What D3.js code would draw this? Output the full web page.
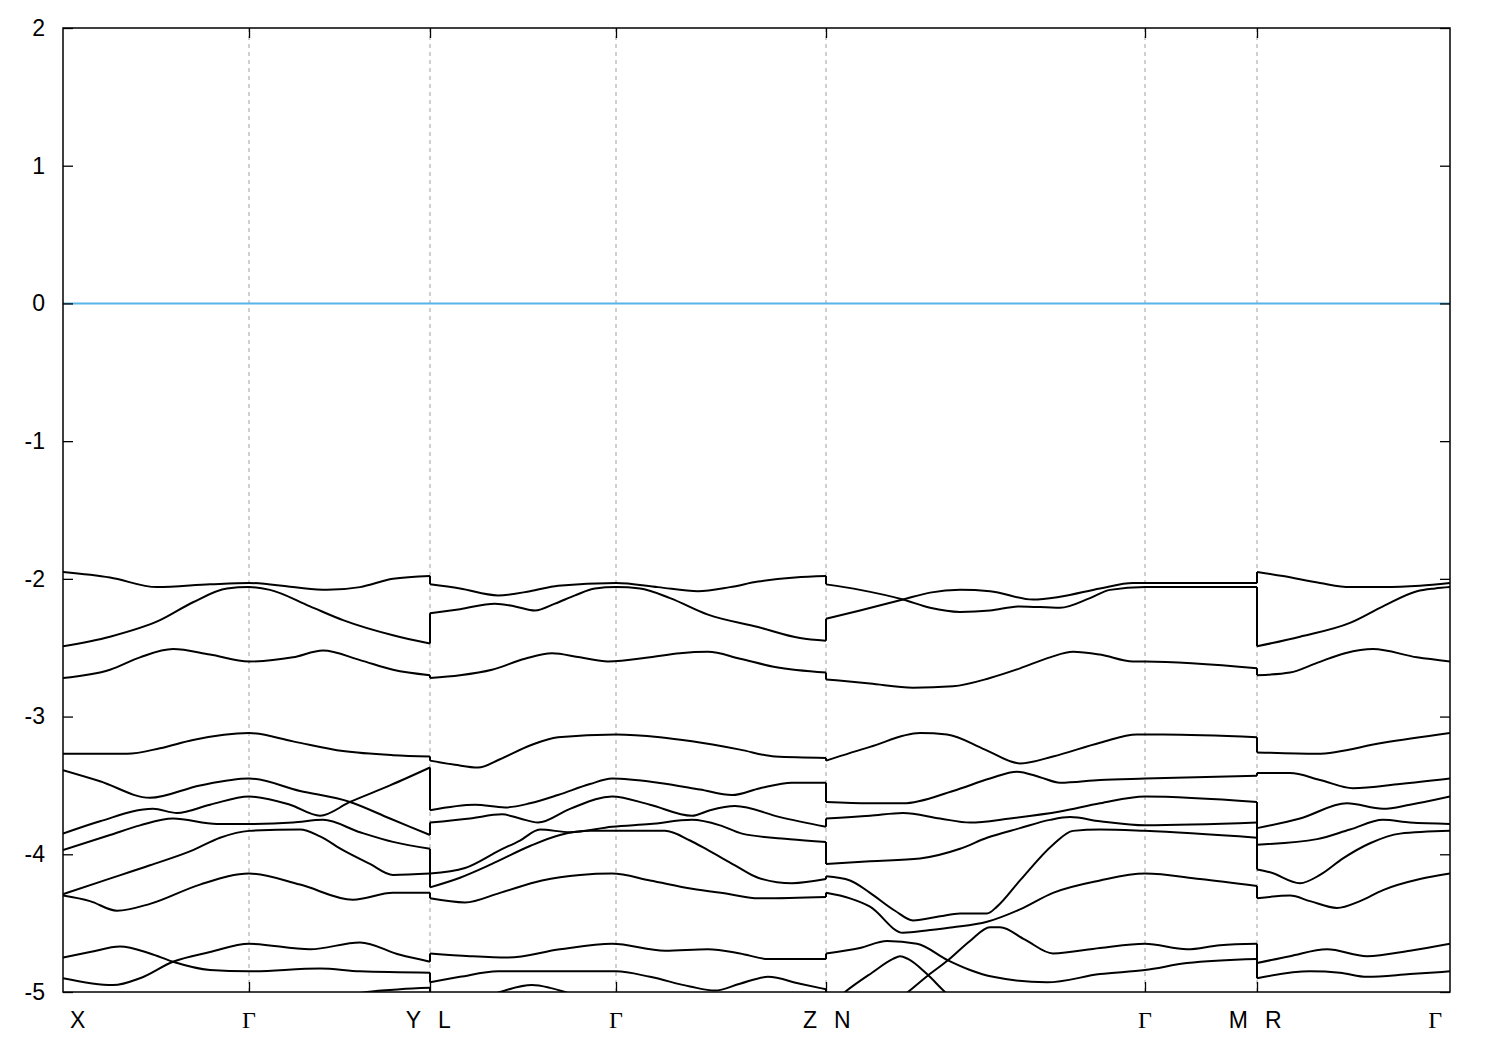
<!DOCTYPE html>
<html><head><meta charset="utf-8">
<script src="https://cdn.jsdelivr.net/npm/d3@7"></script>
<style>body{margin:0;background:#fff;} svg{display:block;}</style>
</head><body><svg id="chart" width="1500" height="1050"></svg>
<script>
// High-symmetry points along the k-path (path distance, arbitrary units)
const kTicks = [0, 1.86, 3.67, 5.53, 7.63, 10.82, 11.94, 13.87];
const kLabels = ["X", "Γ", "Y|L", "Γ", "Z|N", "Γ", "M|R", "Γ"];
const energyTicks = [-5, -4, -3, -2, -1, 0, 1, 2];
const energyRange = [-5, 2];
const fermiEnergy = 0;

// Bands on X-Γ-Y : each band is a list of [k, E(eV)]
const bandsXGY = [
  [[0,-1.95],[0.47,-1.99],[0.94,-2.06],[1.47,-2.04],[1.86,-2.03],[2.30,-2.06],[2.64,-2.08],[2.97,-2.06],[3.30,-2.00],[3.67,-1.98]],
  [[0,-2.49],[0.47,-2.42],[0.97,-2.30],[1.30,-2.17],[1.64,-2.07],[1.86,-2.06],[2.07,-2.08],[2.47,-2.20],[2.80,-2.30],[3.30,-2.41],[3.67,-2.47]],
  [[0,-2.72],[0.47,-2.66],[0.77,-2.57],[1.10,-2.51],[1.47,-2.55],[1.86,-2.60],[2.30,-2.57],[2.60,-2.52],[2.97,-2.59],[3.30,-2.66],[3.67,-2.70]],
  [[0,-3.27],[0.64,-3.27],[0.97,-3.23],[1.30,-3.17],[1.86,-3.12],[2.30,-3.18],[2.80,-3.25],[3.30,-3.28],[3.67,-3.29]],
  [[0,-3.39],[0.37,-3.47],[0.87,-3.59],[1.37,-3.50],[1.86,-3.45],[2.37,-3.54],[2.87,-3.62],[3.27,-3.74],[3.67,-3.86]],
  [[0,-3.85],[0.37,-3.76],[0.90,-3.67],[1.14,-3.70],[1.47,-3.64],[1.86,-3.58],[2.27,-3.64],[2.57,-3.72],[2.87,-3.62],[3.27,-3.50],[3.67,-3.37]],
  [[0,-3.97],[0.47,-3.86],[0.77,-3.79],[1.10,-3.74],[1.54,-3.78],[1.86,-3.78],[2.30,-3.77],[2.60,-3.75],[2.97,-3.84],[3.30,-3.91],[3.67,-3.96]],
  [[0,-4.29],[0.37,-4.20],[0.87,-4.08],[1.30,-3.97],[1.57,-3.88],[1.86,-3.83],[2.37,-3.82],[2.57,-3.87],[2.80,-3.97],[3.07,-4.07],[3.30,-4.15],[3.67,-4.14]],
  [[0,-4.30],[0.27,-4.34],[0.54,-4.41],[0.87,-4.36],[1.37,-4.22],[1.86,-4.14],[2.37,-4.22],[2.90,-4.33],[3.30,-4.28],[3.67,-4.28]],
  [[0,-4.75],[0.27,-4.71],[0.57,-4.67],[0.87,-4.72],[1.10,-4.78],[1.47,-4.84],[1.86,-4.85],[2.57,-4.83],[2.97,-4.85],[3.67,-4.86]],
  [[0,-4.90],[0.50,-4.95],[0.77,-4.90],[1.10,-4.78],[1.47,-4.71],[1.86,-4.65],[2.47,-4.69],[2.97,-4.64],[3.37,-4.73],[3.67,-4.78]],
  [[0,-5.30],[1.86,-5.30],[2.37,-5.15],[2.77,-5.04],[3.04,-5.00],[3.37,-4.98],[3.67,-4.97]]
];

// Bands on L-Γ-Z
const bandsLGZ = [
  [[3.67,-2.04],[3.97,-2.07],[4.35,-2.12],[4.67,-2.09],[4.95,-2.05],[5.53,-2.03],[5.95,-2.06],[6.35,-2.09],[6.67,-2.06],[6.95,-2.02],[7.32,-1.99],[7.63,-1.98]],
  [[3.67,-2.25],[3.97,-2.22],[4.32,-2.18],[4.52,-2.20],[4.72,-2.23],[4.92,-2.18],[5.12,-2.12],[5.32,-2.07],[5.53,-2.06],[5.77,-2.07],[6.07,-2.14],[6.45,-2.26],[6.95,-2.35],[7.37,-2.43],[7.63,-2.45]],
  [[3.67,-2.72],[3.97,-2.70],[4.29,-2.66],[4.62,-2.58],[4.89,-2.54],[5.17,-2.57],[5.45,-2.60],[5.87,-2.57],[6.17,-2.54],[6.45,-2.53],[6.77,-2.58],[7.12,-2.64],[7.63,-2.68]],
  [[3.67,-3.32],[3.92,-3.35],[4.15,-3.37],[4.37,-3.31],[4.67,-3.21],[4.95,-3.15],[5.53,-3.13],[5.97,-3.15],[6.29,-3.18],[6.77,-3.24],[7.12,-3.29],[7.63,-3.30]],
  [[3.67,-3.68],[4.12,-3.64],[4.42,-3.66],[4.67,-3.63],[4.95,-3.57],[5.27,-3.49],[5.49,-3.45],[5.95,-3.48],[6.37,-3.53],[6.69,-3.57],[6.97,-3.52],[7.29,-3.48],[7.63,-3.48]],
  [[3.67,-3.77],[4.07,-3.74],[4.39,-3.71],[4.57,-3.74],[4.75,-3.77],[5.07,-3.67],[5.49,-3.58],[5.87,-3.64],[6.29,-3.72],[6.47,-3.68],[6.72,-3.65],[7.17,-3.73],[7.63,-3.80]],
  [[3.67,-4.14],[4.02,-4.10],[4.37,-3.97],[4.57,-3.90],[4.77,-3.82],[5.07,-3.84],[5.49,-3.80],[5.87,-3.78],[6.29,-3.75],[6.57,-3.79],[6.79,-3.85],[7.27,-3.89],[7.63,-3.91]],
  [[3.67,-4.24],[3.97,-4.17],[4.29,-4.07],[4.67,-3.94],[4.97,-3.86],[5.27,-3.83],[5.53,-3.83],[6.02,-3.83],[6.27,-3.90],[6.45,-3.97],[6.72,-4.08],[6.95,-4.17],[7.29,-4.21],[7.63,-4.18]],
  [[3.67,-4.32],[4.02,-4.35],[4.37,-4.28],[4.79,-4.19],[5.17,-4.15],[5.49,-4.14],[5.87,-4.19],[6.29,-4.25],[6.67,-4.29],[6.95,-4.32],[7.63,-4.31]],
  [[3.67,-4.72],[4.07,-4.74],[4.45,-4.75],[4.97,-4.69],[5.49,-4.65],[6.02,-4.70],[6.45,-4.69],[6.77,-4.72],[7.05,-4.76],[7.63,-4.76]],
  [[3.67,-4.93],[3.97,-4.89],[4.35,-4.85],[4.97,-4.85],[5.53,-4.85],[5.87,-4.89],[6.27,-4.96],[6.52,-4.99],[6.77,-4.94],[7.05,-4.89],[7.37,-4.94],[7.63,-4.98]],
  [[3.67,-5.15],[4.17,-5.05],[4.37,-5.00],[4.69,-4.95],[4.87,-4.97],[5.02,-5.00],[5.37,-5.10],[7.63,-5.20]]
];

// Bands on N-Γ-M
const bandsNGM = [
  [[7.63,-2.04],[7.97,-2.08],[8.40,-2.15],[8.67,-2.21],[8.97,-2.24],[9.27,-2.23],[9.57,-2.20],[9.97,-2.21],[10.27,-2.14],[10.47,-2.08],[10.82,-2.06],[11.94,-2.06]],
  [[7.63,-2.29],[7.97,-2.23],[8.40,-2.15],[8.67,-2.10],[8.97,-2.08],[9.27,-2.09],[9.70,-2.15],[9.97,-2.13],[10.37,-2.07],[10.70,-2.03],[10.82,-2.03],[11.94,-2.03]],
  [[7.63,-2.73],[8.07,-2.76],[8.50,-2.79],[8.90,-2.78],[9.27,-2.72],[9.57,-2.65],[9.87,-2.57],[10.10,-2.53],[10.37,-2.55],[10.70,-2.60],[10.82,-2.60],[11.94,-2.65]],
  [[7.63,-3.32],[8.07,-3.22],[8.57,-3.12],[8.84,-3.13],[9.22,-3.24],[9.57,-3.34],[9.90,-3.29],[10.37,-3.19],[10.74,-3.13],[11.00,-3.13],[11.94,-3.15]],
  [[7.63,-3.62],[8.07,-3.63],[8.40,-3.63],[8.90,-3.54],[9.27,-3.45],[9.54,-3.40],[9.77,-3.44],[9.97,-3.48],[10.37,-3.46],[10.82,-3.45],[11.94,-3.43]],
  [[7.63,-3.74],[8.07,-3.72],[8.40,-3.70],[8.77,-3.74],[9.07,-3.77],[9.47,-3.74],[9.97,-3.69],[10.37,-3.63],[10.82,-3.58],[11.94,-3.62]],
  [[7.63,-4.07],[8.07,-4.05],[8.57,-4.03],[8.97,-3.96],[9.24,-3.88],[9.57,-3.81],[9.87,-3.75],[10.07,-3.73],[10.37,-3.76],[10.82,-3.79],[11.94,-3.77]],
  [[7.63,-4.16],[7.87,-4.19],[8.07,-4.28],[8.32,-4.41],[8.50,-4.48],[8.77,-4.45],[8.97,-4.43],[9.24,-4.43],[9.34,-4.38],[9.57,-4.19],[9.90,-3.93],[10.10,-3.83],[10.37,-3.82],[10.82,-3.83],[11.94,-3.88]],
  [[7.63,-4.28],[7.87,-4.32],[8.07,-4.38],[8.40,-4.57],[8.67,-4.55],[8.90,-4.53],[9.24,-4.49],[9.57,-4.40],[9.90,-4.28],[10.37,-4.19],[10.82,-4.14],[11.37,-4.18],[11.94,-4.23]],
  [[7.63,-4.72],[7.97,-4.68],[8.24,-4.63],[8.54,-4.65],[8.85,-4.77],[9.07,-4.84],[9.30,-4.89],[9.84,-4.93],[10.37,-4.87],[10.82,-4.84],[11.24,-4.79],[11.94,-4.76]],
  [[7.63,-5.45],[8.07,-5.22],[8.45,-5.00],[8.65,-4.88],[8.85,-4.77],[9.07,-4.63],[9.27,-4.53],[9.37,-4.53],[9.62,-4.62],[9.90,-4.72],[10.37,-4.68],[10.82,-4.65],[11.24,-4.69],[11.57,-4.66],[11.94,-4.65]],
  [[7.63,-5.12],[7.82,-5.00],[8.09,-4.86],[8.30,-4.76],[8.37,-4.74],[8.45,-4.76],[8.64,-4.87],[8.82,-5.00],[9.07,-5.15],[11.94,-5.30]]
];

// Bands on R-Γ
const bandsRG = [
  [[11.94,-1.95],[12.20,-1.98],[12.57,-2.03],[12.87,-2.06],[13.20,-2.06],[13.57,-2.05],[13.87,-2.03]],
  [[11.94,-2.49],[12.37,-2.42],[12.87,-2.32],[13.20,-2.20],[13.54,-2.09],[13.72,-2.07],[13.87,-2.06]],
  [[11.94,-2.70],[12.27,-2.68],[12.54,-2.61],[12.82,-2.54],[13.10,-2.51],[13.54,-2.57],[13.87,-2.60]],
  [[11.94,-3.26],[12.54,-3.27],[13.20,-3.19],[13.87,-3.12]],
  [[11.94,-3.41],[12.27,-3.41],[12.57,-3.46],[12.90,-3.52],[13.37,-3.49],[13.87,-3.45]],
  [[11.94,-3.81],[12.37,-3.74],[12.84,-3.63],[13.20,-3.67],[13.47,-3.64],[13.87,-3.58]],
  [[11.94,-3.93],[12.54,-3.89],[12.87,-3.82],[13.20,-3.75],[13.47,-3.77],[13.87,-3.78]],
  [[11.94,-4.11],[12.07,-4.13],[12.37,-4.21],[12.57,-4.15],[12.80,-4.03],[13.07,-3.92],[13.37,-3.85],[13.87,-3.83]],
  [[11.94,-4.32],[12.27,-4.30],[12.47,-4.34],[12.74,-4.39],[12.97,-4.34],[13.20,-4.26],[13.57,-4.18],[13.87,-4.14]],
  [[11.94,-4.79],[12.27,-4.74],[12.64,-4.69],[13.04,-4.74],[13.47,-4.70],[13.87,-4.65]],
  [[11.94,-4.90],[12.47,-4.85],[12.77,-4.86],[13.04,-4.89],[13.47,-4.87],[13.87,-4.85]],
  [[11.94,-5.30],[13.87,-5.30]]
];

const pathChunks = [bandsXGY, bandsLGZ, bandsNGM, bandsRG];

// ---------- drawing ----------
const svg = d3.select("#chart");
const plot = {left: 63, right: 1450, top: 28, bottom: 992};
const x = d3.scaleLinear().domain([kTicks[0], kTicks[kTicks.length - 1]]).range([plot.left, plot.right]);
const y = d3.scaleLinear().domain(energyRange).range([plot.bottom, plot.top]);

svg.append("rect").attr("width", 1500).attr("height", 1050).attr("fill", "#fff");

svg.append("defs").append("clipPath").attr("id", "clip")
  .append("rect").attr("x", plot.left).attr("y", plot.top)
  .attr("width", plot.right - plot.left).attr("height", plot.bottom - plot.top);

const interior = kTicks.slice(1, -1);

// dashed grid at high-symmetry points
svg.append("g").selectAll("line").data(interior).join("line")
  .attr("x1", d => x(d)).attr("x2", d => x(d))
  .attr("y1", plot.top).attr("y2", plot.bottom)
  .attr("stroke", "#a0a0a0").attr("stroke-width", 1)
  .attr("stroke-dasharray", "4,4");

// Fermi level
svg.append("line")
  .attr("x1", plot.left).attr("x2", plot.right)
  .attr("y1", y(fermiEnergy)).attr("y2", y(fermiEnergy))
  .attr("stroke", "#56b4e9").attr("stroke-width", 2);

const bandsG = svg.append("g").attr("clip-path", "url(#clip)");
const bandLine = d3.line().x(d => x(d[0])).y(d => y(d[1])).curve(d3.curveMonotoneX);

pathChunks.forEach(chunk => {
  bandsG.append("g").selectAll("path").data(chunk).join("path")
    .attr("d", bandLine).attr("fill", "none")
    .attr("stroke", "#000").attr("stroke-width", 2)
    .attr("stroke-linejoin", "round");
});

// vertical jumps at discontinuities (band index order, as energies are sorted)
for (let c = 0; c < pathChunks.length - 1; c++) {
  const ends = pathChunks[c].map(b => b[b.length - 1]).sort((a, b) => b[1] - a[1]);
  const starts = pathChunks[c + 1].map(b => b[0]).sort((a, b) => b[1] - a[1]);
  const pairs = ends.map((e, i) => [e, starts[i]]);
  bandsG.append("g").selectAll("line").data(pairs).join("line")
    .attr("x1", d => x(d[0][0])).attr("x2", d => x(d[1][0]))
    .attr("y1", d => y(d[0][1])).attr("y2", d => y(d[1][1]))
    .attr("stroke", "#000").attr("stroke-width", 2);
}

// axes (inward ticks, mirrored)
const fontSans = "'Liberation Sans', Arial, sans-serif";
const axLeft = svg.append("g").attr("transform", `translate(${plot.left},0)`)
  .call(d3.axisLeft(y).tickValues(energyTicks).tickSize(-10).tickPadding(18));
const axRight = svg.append("g").attr("transform", `translate(${plot.right},0)`)
  .call(d3.axisRight(y).tickValues(energyTicks).tickSize(-10).tickFormat(""));
const axBottom = svg.append("g").attr("transform", `translate(0,${plot.bottom})`)
  .call(d3.axisBottom(x).tickValues(interior).tickSize(-10).tickFormat(""));
const axTop = svg.append("g").attr("transform", `translate(0,${plot.top})`)
  .call(d3.axisTop(x).tickValues(interior).tickSize(-10).tickFormat(""));
[axLeft, axRight, axBottom, axTop].forEach(g => {
  g.select(".domain").remove();
  g.selectAll(".tick line").attr("stroke", "#000").attr("stroke-width", 1.3);
});
axLeft.selectAll("text").attr("font-family", fontSans).attr("font-size", 23).attr("fill", "#000")
  .text(d => d < 0 ? "-" + Math.abs(d) : String(d));

// frame
svg.append("rect").attr("x", plot.left).attr("y", plot.top)
  .attr("width", plot.right - plot.left).attr("height", plot.bottom - plot.top)
  .attr("fill", "none").attr("stroke", "#000").attr("stroke-width", 1.5);

// k-point labels
const labG = svg.append("g");
const labY = 1028;
function addLabel(text, xpos, anchor) {
  const serif = text === "Γ";
  labG.append("text").attr("x", xpos).attr("y", labY)
    .attr("text-anchor", anchor)
    .attr("font-family", serif ? "'Liberation Serif', 'Times New Roman', serif" : fontSans)
    .attr("font-size", serif ? 24 : 23).attr("fill", "#000").text(text);
}
kLabels.forEach((lab, i) => {
  const px = x(kTicks[i]);
  if (i === 0) { addLabel(lab, px + 7, "start"); return; }
  if (i === kLabels.length - 1) { addLabel(lab, px - 8, "end"); return; }
  if (lab.includes("|")) {
    const [a, b] = lab.split("|");
    addLabel(a, px - 9, "end");
    addLabel(b, px + 8, "start");
  } else {
    addLabel(lab, px, "middle");
  }
});
</script></body></html>
